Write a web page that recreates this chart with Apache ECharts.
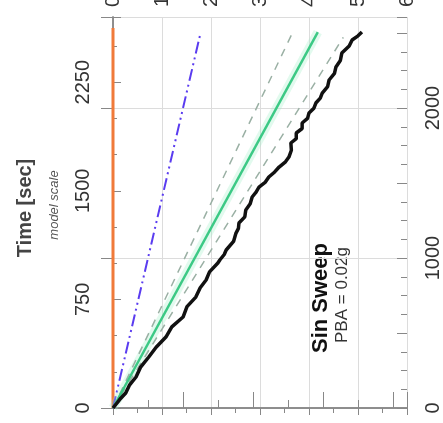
<!DOCTYPE html>
<html lang="en">
<head>
    <meta charset="UTF-8">
    <title>Sin Sweep</title>
    <script src="https://cdn.jsdelivr.net/npm/echarts@6/dist/echarts.min.js"></script>
    <style>
        *{
            margin: 0;
            padding: 0;
        }
        html,body{
            width: 100%;
            height: 100%;
            overflow: hidden;
            background: #fff;
        }
        .container{
            width: 443px;
            height: 423px;
        }
    </style>
</head>
<body>
<div class="container"></div>
<script>
    // measured response (time in sec, model scale)
    const timeMeasured = [0, 21, 60, 104, 160, 214, 280, 352, 420, 490, 560, 628, 700, 766, 830, 884, 940, 1001, 1022, 1060,
        1091, 1150, 1208, 1240, 1277, 1320, 1367, 1410, 1457, 1490, 1526, 1560, 1595, 1630, 1664, 1700, 1733, 1780, 1830, 1860,
        1899, 1930, 1968, 2000, 2037, 2070, 2106, 2140, 2175, 2220, 2265, 2310, 2355, 2400, 2451, 2500, 2541, 2570, 2596]
    const valueMeasured = [0, 0.05, 0.14, 0.26, 0.34, 0.47, 0.56, 0.73, 0.88, 1.08, 1.20, 1.43, 1.51, 1.69, 1.78, 1.90, 1.97, 2.14, 2.18, 2.27,
        2.31, 2.46, 2.51, 2.56, 2.57, 2.69, 2.71, 2.80, 2.84, 2.92, 2.98, 3.11, 3.18, 3.30, 3.39, 3.52, 3.59, 3.64, 3.63, 3.74,
        3.74, 3.86, 3.86, 3.97, 4.00, 4.10, 4.14, 4.23, 4.27, 4.38, 4.41, 4.52, 4.55, 4.64, 4.67, 4.82, 4.88, 5.00, 5.08]
    // fitted / reference lines: [end time, end value]
    const fitLine = [2596, 4.18]
    const lowerBound = [2596, 3.67]
    const upperBound = [2560, 4.70]
    const inputLine = [2580, 1.78]
    const baseLine = [2624, 0]

    const valueTicks = [0, 1, 2, 3, 4, 5, 6]
    const timeLabels = [0, 750, 1500, 2250]
    const protoLabels = [0, 1000, 2000]

    let container = document.querySelector('.container')
    let mycharts = echarts.init(container)

    const font = 'Liberation Sans'
    const measured = timeMeasured.map((t, i) => [valueMeasured[i], t])
    const seg = end => [[0, 0], [end[1], end[0]]]

    let options = {
        animation: false,
        grid: {left: 113, right: 36, top: 17, bottom: 15, outerBoundsMode: 'none'},
        xAxis: [{
            type: 'value', position: 'top', min: 0, max: 6, interval: 1,
            axisLine: {show: true, lineStyle: {color: '#888', width: 1.5}},
            axisTick: {show: true, inside: true, length: 7, lineStyle: {color: '#888'}},
            minorTick: {show: true, splitNumber: 2, length: 5, lineStyle: {color: '#888'}},
            splitLine: {show: true, lineStyle: {color: '#dcdcdc', width: 1}},
            axisLabel: {
                rotate: 90, margin: 10, fontSize: 20, color: '#333', fontFamily: font,
                formatter: v => valueTicks.includes(v) ? String(v) : ''
            }
        }, {
            type: 'value', position: 'bottom', min: 0, max: 4.2, interval: 1,
            axisLine: {show: true, lineStyle: {color: '#888', width: 1.5}},
            axisTick: {show: true, inside: true, length: 16, lineStyle: {color: '#888'}},
            minorTick: {show: true, splitNumber: 2, length: 8, lineStyle: {color: '#888'}},
            splitLine: {show: false},
            axisLabel: {show: false}
        }],
        yAxis: [{
            type: 'value', position: 'left', min: 0, max: 2700, interval: 750,
            axisLine: {show: true, lineStyle: {color: '#888', width: 1.5}},
            axisTick: {show: true, inside: true, length: 8, lineStyle: {color: '#888'}},
            minorTick: {show: true, splitNumber: 3, length: 4, lineStyle: {color: '#888'}},
            splitLine: {show: false},
            axisLabel: {
                rotate: 90, margin: 20, fontSize: 20, color: '#333', fontFamily: font,
                formatter: v => timeLabels.includes(v) ? String(v) : ''
            }
        }, {
            type: 'value', position: 'right', offset: 0, min: 0, max: 2607, interval: 1000,
            axisLine: {show: true, lineStyle: {color: '#888', width: 1.5}},
            axisTick: {show: true, inside: true, length: 12, lineStyle: {color: '#888'}},
            splitLine: {show: true, lineStyle: {color: '#dcdcdc', width: 1}},
            axisLabel: {
                rotate: 90, margin: 16, fontSize: 20, color: '#333', fontFamily: font,
                formatter: v => protoLabels.includes(v) ? String(v) : ''
            }
        }, {
            type: 'value', position: 'right', offset: 0, min: 0, max: 2607, interval: 500,
            axisLine: {show: false},
            axisTick: {show: true, inside: true, length: 10, lineStyle: {color: '#888'}},
            minorTick: {show: true, splitNumber: 4, length: 6, lineStyle: {color: '#888'}},
            splitLine: {show: false},
            axisLabel: {show: false}
        }],
        graphic: [{
            type: 'text', x: 25, y: 208, rotation: Math.PI / 2,
            style: {text: 'Time [sec]', font: 'bold 20px ' + font, fill: '#444', align: 'center', verticalAlign: 'middle'}
        }, {
            type: 'text', x: 54, y: 205, rotation: Math.PI / 2,
            style: {text: 'model scale', font: 'italic 13px ' + font, fill: '#555', align: 'center', verticalAlign: 'middle'}
        }, {
            type: 'text', x: 321, y: 298, rotation: Math.PI / 2,
            style: {text: 'Sin Sweep', font: 'bold 22px ' + font, fill: '#111', align: 'center', verticalAlign: 'middle'}
        }, {
            type: 'text', x: 342, y: 295, rotation: Math.PI / 2,
            style: {text: 'PBA = 0.02g', font: '17px ' + font, fill: '#333', align: 'center', verticalAlign: 'middle'}
        }],
        series: [{
            type: 'line', data: seg(baseLine), symbol: 'none',
            lineStyle: {color: '#f07a3a', width: 3}
        }, {
            type: 'line', data: seg(inputLine), symbol: 'none',
            lineStyle: {color: '#5a3cf0', width: 2, type: [12, 4, 2, 4, 2, 4]}
        }, {
            type: 'line', data: seg(fitLine), symbol: 'none',
            lineStyle: {color: 'rgba(160,240,200,0.3)', width: 9}
        }, {
            type: 'line', data: seg(lowerBound), symbol: 'none',
            lineStyle: {color: '#9ab0a4', width: 1.5, type: [8, 7]}
        }, {
            type: 'line', data: seg(upperBound), symbol: 'none',
            lineStyle: {color: '#9ab0a4', width: 1.5, type: [8, 7]}
        }, {
            type: 'line', data: seg(fitLine), symbol: 'none',
            lineStyle: {color: '#3cc985', width: 2.5}
        }, {
            type: 'line', data: measured, symbol: 'none',
            lineStyle: {color: '#111', width: 3.5}
        }]
    }

    mycharts.setOption(options)
</script>
</body>
</html>
